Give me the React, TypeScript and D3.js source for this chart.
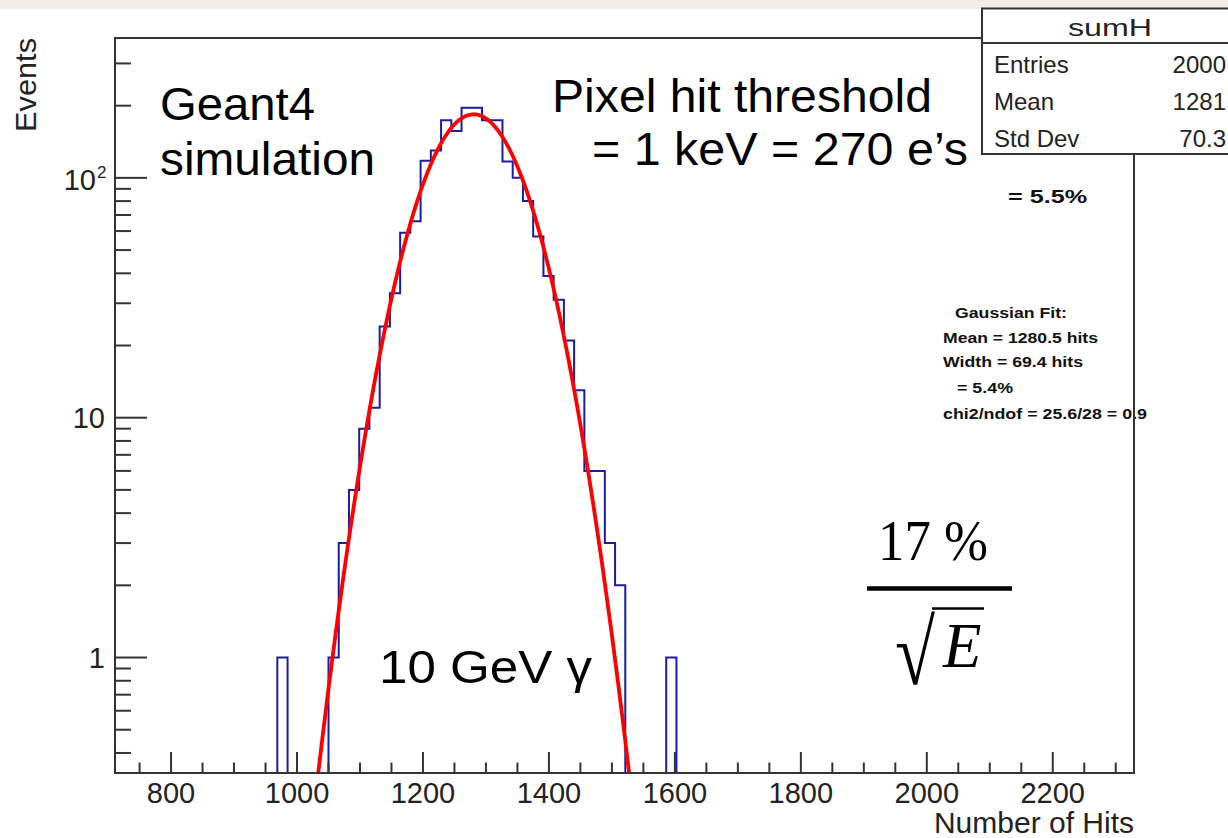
import React from 'react';
import * as d3 from 'd3';

const W = 1228;
const H = 838;

// Histogram "sumH": bins of equal width starting at binStart
const binStart = 968.75;
const binWidth = 16.25;
const binCounts = [
  1, 0, 0, 0, 0,
  1, 3, 5, 9, 11, 24, 33, 59, 66, 118, 130, 174, 157, 196, 196,
  174, 174, 117, 100, 80, 57, 39, 31, 21, 13, 6, 6, 3, 2,
  0, 0, 0, 0, 1,
];

// Gaussian fit parameters
const fitMean = 1280.5;
const fitSigma = 69.4;
const fitAmp = 184;
const fitRange = [1000, 1562];

const xDomain = [711, 2329];
const yDomain = [0.33, 383];
const xMajorTicks = [800, 1000, 1200, 1400, 1600, 1800, 2000, 2200];
const yMajorTicks = [1, 10, 100];

const statsTitle = 'sumH';
const statsLabels = ['Entries', 'Mean', 'Std Dev'];
const statsValues = ['2000', '1281', '70.3'];

const fitTextLines = [
  'Gaussian Fit:',
  'Mean = 1280.5 hits',
  'Width = 69.4 hits',
  '= 5.4%',
  'chi2/ndof = 25.6/28 = 0.9',
];

const SANS = '"Liberation Sans", Arial, Helvetica, sans-serif';
const SERIF = '"Liberation Serif", "Times New Roman", serif';

const L = 115, T = 38, R = 1134, B = 773;

export default function App() {
  const x = d3.scaleLinear().domain(xDomain).range([L, R]);
  const y = d3.scaleLog().domain(yDomain).range([B, T]);
  const yc = (c: number) => (c <= 0 ? B : y(c));

  // histogram outline
  const pts: [number, number][] = [];
  pts.push([x(binStart), B]);
  binCounts.forEach((c, i) => {
    pts.push([x(binStart + i * binWidth), yc(c)]);
  });
  pts.push([x(binStart + binCounts.length * binWidth), B]);
  const histPath = d3.line().curve(d3.curveStepAfter)(pts) || '';

  const fitPts: [number, number][] = d3.range(fitRange[0], fitRange[1], 2).map((v) => [
    x(v),
    y(fitAmp * Math.exp(-0.5 * ((v - fitMean) / fitSigma) ** 2)),
  ]);
  const fitPath = d3.line().curve(d3.curveMonotoneX)(fitPts) || '';

  const xMinor = d3.range(750, 2330, 50).filter((v) => v % 200 !== 0);
  const yMinor: number[] = [];
  [0.1, 1, 10, 100].forEach((d) => {
    for (let k = 2; k <= 9; k++) {
      const v = k * d;
      if (v >= yDomain[0] && v <= yDomain[1]) yMinor.push(v);
    }
  });

  const fitX = [955, 943, 943, 957, 943];
  const fitY = [318, 343, 367, 393, 419];
  const fitW = [112, 155, 140, 56, 204];

  return (
    <svg width={W} height={H} style={{ position: 'absolute', left: 0, top: 0, background: '#fff' }}>
      <defs>
        <clipPath id="frameClip">
          <rect x={L} y={T} width={R - L} height={B - T} />
        </clipPath>
      </defs>
      <rect x={0} y={0} width={W} height={H} fill="#fff" />
      <rect x={0} y={0} width={W} height={9} fill="#f1ece4" />

      {/* annotations */}
      <g fontFamily={SANS} fill="#000">
        <text x={160} y={120} fontSize={46} textLength={155} lengthAdjust="spacingAndGlyphs">Geant4</text>
        <text x={160} y={175} fontSize={46} textLength={215} lengthAdjust="spacingAndGlyphs">simulation</text>
        <text x={552} y={112} fontSize={46} textLength={380} lengthAdjust="spacingAndGlyphs">Pixel hit threshold</text>
        <text x={592} y={165} fontSize={46} textLength={376} lengthAdjust="spacingAndGlyphs">= 1 keV = 270 e’s</text>
        <text x={379} y={683} fontSize={46} textLength={213} lengthAdjust="spacingAndGlyphs">10 GeV γ</text>
      </g>

      <g fontFamily={SANS} fontWeight="bold" fill="#111">
        <text x={1008} y={203} fontSize={18} textLength={79} lengthAdjust="spacingAndGlyphs">= 5.5%</text>
        {fitTextLines.map((t, i) => (
          <text key={i} x={fitX[i]} y={fitY[i]} fontSize={15} textLength={fitW[i]} lengthAdjust="spacingAndGlyphs">{t}</text>
        ))}
      </g>

      {/* 17% / sqrt(E) */}
      <g fontFamily={SERIF} fill="#000">
        <text x={878} y={560} fontSize={58} textLength={110} lengthAdjust="spacingAndGlyphs">17 %</text>
        <line x1={867} x2={1012} y1={588.5} y2={588.5} stroke="#000" strokeWidth={4.5} />
        <text x={895} y={684} fontSize={92} textLength={40} lengthAdjust="spacingAndGlyphs">√</text>
        <line x1={932} x2={984} y1={608.5} y2={608.5} stroke="#000" strokeWidth={2.5} />
        <text x={943} y={667} fontSize={63} fontStyle="italic">E</text>
      </g>

      {/* histogram + fit */}
      <g clipPath="url(#frameClip)">
        <path d={histPath} fill="none" stroke="#1c1ca0" strokeWidth={2} />
        <path d={fitPath} fill="none" stroke="#ff0000" strokeWidth={3.8} strokeLinejoin="round" />
      </g>

      {/* ticks */}
      <g stroke="#333" strokeWidth={2}>
        {xMajorTicks.map((v) => (
          <line key={'xM' + v} x1={x(v)} x2={x(v)} y1={B} y2={B - 21} />
        ))}
        {xMinor.map((v) => (
          <line key={'xm' + v} x1={x(v)} x2={x(v)} y1={B} y2={B - 10.5} />
        ))}
        {yMajorTicks.map((v) => (
          <line key={'yM' + v} x1={L} x2={L + 32} y1={y(v)} y2={y(v)} />
        ))}
        {yMinor.map((v) => (
          <line key={'ym' + v} x1={L} x2={L + 16} y1={y(v)} y2={y(v)} />
        ))}
      </g>

      {/* frame */}
      <rect x={L} y={T} width={R - L} height={B - T} fill="none" stroke="#333" strokeWidth={2} />

      {/* tick labels */}
      <g fontFamily={SANS} fontSize={29} fill="#222">
        {xMajorTicks.map((v) => (
          <text key={'xl' + v} x={x(v)} y={803} textAnchor="middle">{v}</text>
        ))}
        <text x={105} y={y(1) + 10.5} textAnchor="end">1</text>
        <text x={105} y={y(10) + 10.5} textAnchor="end">10</text>
        <text x={96} y={y(100) + 12} textAnchor="end">10</text>
        <text x={97} y={y(100)} fontSize={17}>2</text>
      </g>

      {/* axis titles */}
      <g fontFamily={SANS} fontSize={30} fill="#222">
        <text x={R} y={833} textAnchor="end">Number of Hits</text>
        <text transform={`translate(36,${T}) rotate(-90)`} textAnchor="end" textLength={94} lengthAdjust="spacingAndGlyphs">Events</text>
      </g>

      {/* stats box */}
      <g>
        <rect x={982} y={8.5} width={260} height={145.5} fill="#fff" stroke="#333" strokeWidth={2} />
        <line x1={982} x2={1242} y1={43} y2={43} stroke="#333" strokeWidth={2} />
        <g fontFamily={SANS} fontSize={24} fill="#222">
          <text x={1110} y={36} textAnchor="middle" textLength={84} lengthAdjust="spacingAndGlyphs">{statsTitle}</text>
          {statsLabels.map((s, i) => (
            <text key={s} x={994} y={73 + i * 37}>{s}</text>
          ))}
          {statsValues.map((s, i) => (
            <text key={s} x={1226} y={73 + i * 37} textAnchor="end">{s}</text>
          ))}
        </g>
      </g>
    </svg>
  );
}
